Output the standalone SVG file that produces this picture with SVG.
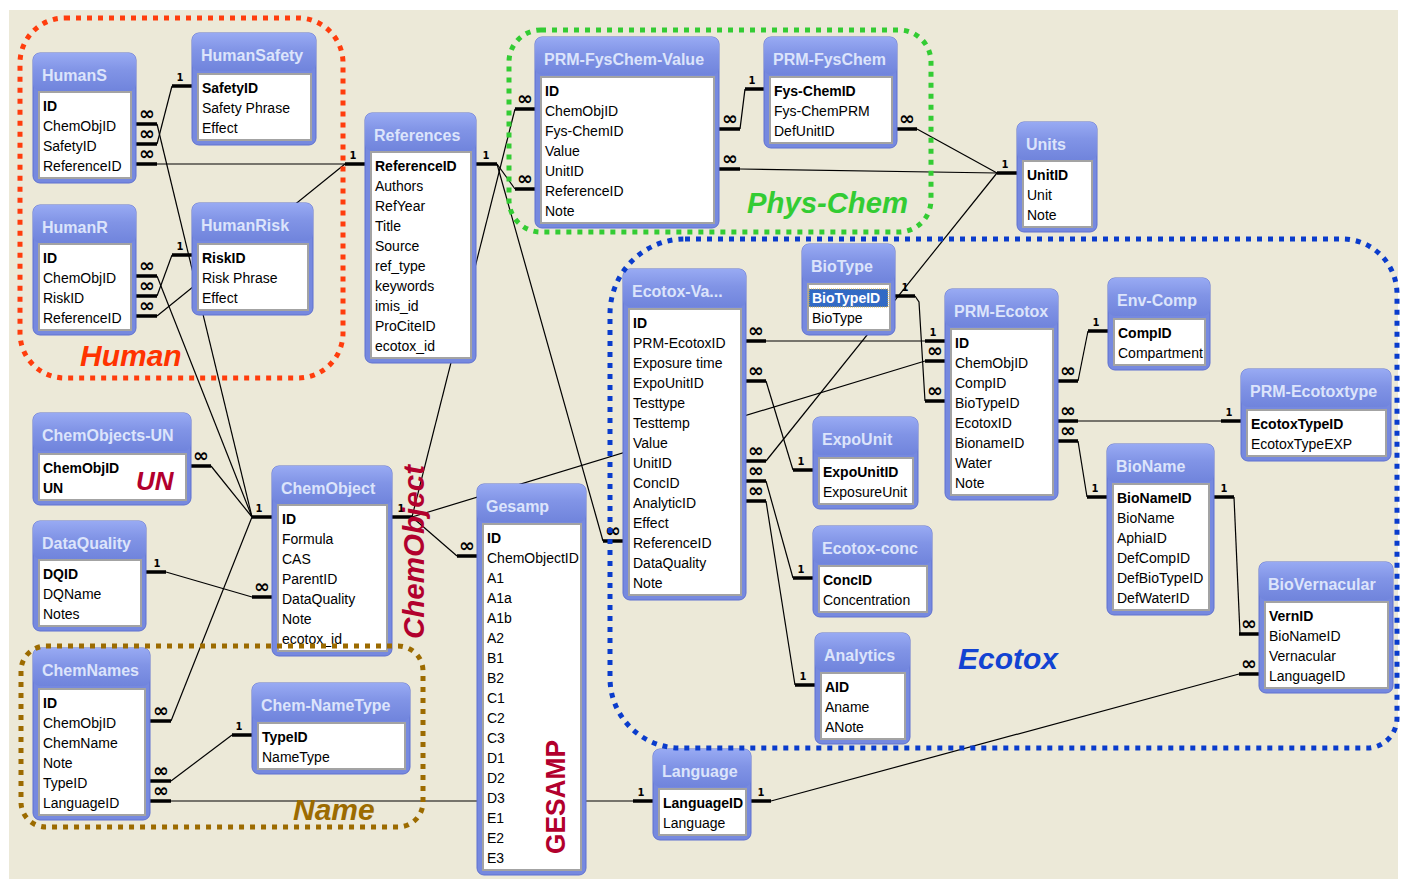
<svg xmlns="http://www.w3.org/2000/svg" width="1406" height="886" viewBox="0 0 1406 886">
<defs>
<linearGradient id="tg" x1="0" y1="0" x2="0" y2="1">
<stop offset="0" stop-color="#98AAF3"/><stop offset="0.45" stop-color="#8194E6"/><stop offset="1" stop-color="#7084DC"/>
</linearGradient>
<style>
.fr{fill:#7689DF;stroke:#5F71D0;stroke-width:1}
.tb{fill:url(#tg)}
.in{fill:#fff;stroke:#A3A3A3;stroke-width:2}
.tt{font-family:"Liberation Sans",Arial,sans-serif;font-weight:bold;font-size:16px;fill:#DCE4FB}
.f{font-family:"Liberation Sans",Arial,sans-serif;font-size:14px;fill:#000}
.k{font-weight:bold}
.ln{stroke:#000;stroke-width:1.2;fill:none}
.st{stroke:#000;stroke-width:3.5;fill:none}
.one{font-family:"DejaVu Sans",sans-serif;font-weight:bold;font-size:10px;fill:#000;text-anchor:middle}
.many{font-family:"DejaVu Sans",sans-serif;font-weight:bold;font-size:19px;fill:#000;text-anchor:middle}
.dot{fill:none;stroke-width:5;stroke-dasharray:5 6}
.gl{font-family:"Liberation Sans",Arial,sans-serif;font-weight:bold;font-style:italic;font-size:30px}
.red{font-family:"Liberation Sans",Arial,sans-serif;font-weight:bold;fill:#B2002D}
</style>
</defs>
<rect x="0" y="0" width="1406" height="886" fill="#fff"/>
<rect x="9" y="10" width="1389" height="869" fill="#ECE9D8"/>

<g id="connectors">
<path class="ln" d="M157 144 L172 86"/>
<path class="ln" d="M157 124 L252 517"/>
<path class="ln" d="M157 164 L345 164"/>
<path class="ln" d="M157 276 L252 517"/>
<path class="ln" d="M157 296 L172 255"/>
<path class="ln" d="M157 316 L345 164"/>
<path class="ln" d="M211 466 L252 517"/>
<path class="ln" d="M166 572 L252 597"/>
<path class="ln" d="M171 721 L252 517"/>
<path class="ln" d="M171 781 L232 735"/>
<path class="ln" d="M171 801 L633 801"/>
<path class="ln" d="M412 517 L515 109"/>
<path class="ln" d="M412 517 L457 556"/>
<path class="ln" d="M412 517 L925 361"/>
<path class="ln" d="M497 164 L515 189"/>
<path class="ln" d="M497 164 L603 541"/>
<path class="ln" d="M740 129 L745 89"/>
<path class="ln" d="M740 169 L997 173"/>
<path class="ln" d="M917 129 L997 173"/>
<path class="ln" d="M766 461 L997 173"/>
<path class="ln" d="M915 296 L919 302 L925 401"/>
<path class="ln" d="M766 341 L925 341"/>
<path class="ln" d="M766 381 L793 470"/>
<path class="ln" d="M766 481 L793 578"/>
<path class="ln" d="M766 501 L795 685"/>
<path class="ln" d="M1078 381 L1088 331"/>
<path class="ln" d="M1078 421 L1221 421"/>
<path class="ln" d="M1078 441 L1087 497"/>
<path class="ln" d="M1234 497 L1240 634"/>
<path class="ln" d="M771 801 L1239 674"/>
<path class="st" d="M136 124H157M136 144H157M136 164H157M172 86H192M345 164H365M136 276H157M136 296H157M136 316H157M172 255H192M191 466H211M146 572H166M252 517H272M252 597H272M392 517H412M150 721H171M150 781H171M150 801H171M232 735H252M633 801H653M751 801H771M476 164H497M515 109H535M515 189H535M719 129H740M719 169H740M745 89H764M897 129H917M997 173H1017M457 556H477M603 541H623M746 341H766M746 381H766M746 461H766M746 481H766M746 501H766M895 296H915M925 341H945M925 361H945M925 401H945M1058 381H1078M1058 421H1078M1058 441H1078M793 470H813M793 578H813M795 685H815M1088 331H1108M1221 421H1241M1087 497H1107M1214 497H1234M1239 634H1259M1239 674H1259"/>
<g class="many">
<text x="147" y="120">∞</text><text x="147" y="140">∞</text><text x="147" y="160">∞</text>
<text x="147" y="272">∞</text><text x="147" y="292">∞</text><text x="147" y="312">∞</text>
<text x="201" y="462">∞</text><text x="262" y="593">∞</text>
<text x="161" y="717">∞</text><text x="161" y="777">∞</text><text x="161" y="797">∞</text>
<text x="467" y="552">∞</text><text x="525" y="105">∞</text><text x="525" y="185">∞</text>
<text x="730" y="125">∞</text><text x="730" y="165">∞</text><text x="907" y="125">∞</text>
<text x="613" y="537">∞</text>
<text x="756" y="337">∞</text><text x="756" y="377">∞</text><text x="756" y="457">∞</text><text x="756" y="477">∞</text><text x="756" y="497">∞</text>
<text x="935" y="357">∞</text><text x="935" y="397">∞</text>
<text x="1068" y="377">∞</text><text x="1068" y="417">∞</text><text x="1068" y="437">∞</text>
<text x="1249" y="630">∞</text><text x="1249" y="670">∞</text>
</g>
<g class="one">
<text x="180" y="81">1</text><text x="353" y="159">1</text><text x="180" y="250">1</text>
<text x="259" y="512">1</text><text x="401" y="512">1</text><text x="157" y="567">1</text>
<text x="239" y="730">1</text><text x="641" y="796">1</text><text x="761" y="796">1</text>
<text x="486" y="159">1</text><text x="752" y="84">1</text><text x="1005" y="168">1</text>
<text x="905" y="291">1</text><text x="933" y="336">1</text><text x="801" y="465">1</text>
<text x="801" y="573">1</text><text x="803" y="680">1</text><text x="1096" y="326">1</text>
<text x="1229" y="416">1</text><text x="1095" y="492">1</text><text x="1224" y="492">1</text>
</g>
</g>

<g id="HumanS"><rect class="fr" x="33" y="53" width="103" height="130" rx="7"/><rect class="tb" x="33" y="53" width="103" height="38" rx="7"/><text class="tt" x="42" y="81">HumanS</text><rect class="in" x="39" y="92" width="92" height="86"/>
<text class="f k" x="43" y="111">ID</text><text class="f" x="43" y="131">ChemObjID</text><text class="f" x="43" y="151">SafetyID</text><text class="f" x="43" y="171">ReferenceID</text></g>

<g id="HumanSafety"><rect class="fr" x="192" y="33" width="124" height="112" rx="7"/><rect class="tb" x="192" y="33" width="124" height="38" rx="7"/><text class="tt" x="201" y="61">HumanSafety</text><rect class="in" x="198" y="74" width="113" height="66"/>
<text class="f k" x="202" y="93">SafetyID</text><text class="f" x="202" y="113">Safety Phrase</text><text class="f" x="202" y="133">Effect</text></g>

<g id="HumanR"><rect class="fr" x="33" y="205" width="103" height="130" rx="7"/><rect class="tb" x="33" y="205" width="103" height="38" rx="7"/><text class="tt" x="42" y="233">HumanR</text><rect class="in" x="39" y="244" width="92" height="86"/>
<text class="f k" x="43" y="263">ID</text><text class="f" x="43" y="283">ChemObjID</text><text class="f" x="43" y="303">RiskID</text><text class="f" x="43" y="323">ReferenceID</text></g>

<g id="HumanRisk"><rect class="fr" x="192" y="203" width="121" height="112" rx="7"/><rect class="tb" x="192" y="203" width="121" height="38" rx="7"/><text class="tt" x="201" y="231">HumanRisk</text><rect class="in" x="198" y="244" width="110" height="66"/>
<text class="f k" x="202" y="263">RiskID</text><text class="f" x="202" y="283">Risk Phrase</text><text class="f" x="202" y="303">Effect</text></g>

<g id="References"><rect class="fr" x="365" y="113" width="111" height="250" rx="7"/><rect class="tb" x="365" y="113" width="111" height="38" rx="7"/><text class="tt" x="374" y="141">References</text><rect class="in" x="371" y="152" width="100" height="206"/>
<text class="f k" x="375" y="171">ReferenceID</text><text class="f" x="375" y="191">Authors</text><text class="f" x="375" y="211">RefYear</text><text class="f" x="375" y="231">Title</text><text class="f" x="375" y="251">Source</text><text class="f" x="375" y="271">ref_type</text><text class="f" x="375" y="291">keywords</text><text class="f" x="375" y="311">imis_id</text><text class="f" x="375" y="331">ProCiteID</text><text class="f" x="375" y="351">ecotox_id</text></g>

<g id="PRM-FysChem-Value"><rect class="fr" x="535" y="37" width="184" height="191" rx="7"/><rect class="tb" x="535" y="37" width="184" height="38" rx="7"/><text class="tt" x="544" y="65">PRM-FysChem-Value</text><rect class="in" x="541" y="77" width="173" height="146"/>
<text class="f k" x="545" y="96">ID</text><text class="f" x="545" y="116">ChemObjID</text><text class="f" x="545" y="136">Fys-ChemID</text><text class="f" x="545" y="156">Value</text><text class="f" x="545" y="176">UnitID</text><text class="f" x="545" y="196">ReferenceID</text><text class="f" x="545" y="216">Note</text></g>

<g id="PRM-FysChem"><rect class="fr" x="764" y="37" width="133" height="111" rx="7"/><rect class="tb" x="764" y="37" width="133" height="38" rx="7"/><text class="tt" x="773" y="65">PRM-FysChem</text><rect class="in" x="770" y="77" width="122" height="66"/>
<text class="f k" x="774" y="96">Fys-ChemID</text><text class="f" x="774" y="116">Fys-ChemPRM</text><text class="f" x="774" y="136">DefUnitID</text></g>

<g id="Units"><rect class="fr" x="1017" y="122" width="80" height="110" rx="7"/><rect class="tb" x="1017" y="122" width="80" height="38" rx="7"/><text class="tt" x="1026" y="150">Units</text><rect class="in" x="1023" y="161" width="69" height="66"/>
<text class="f k" x="1027" y="180">UnitID</text><text class="f" x="1027" y="200">Unit</text><text class="f" x="1027" y="220">Note</text></g>

<g id="Ecotox-Values"><rect class="fr" x="623" y="269" width="123" height="331" rx="7"/><rect class="tb" x="623" y="269" width="123" height="38" rx="7"/><text class="tt" x="632" y="297">Ecotox-Va...</text><rect class="in" x="629" y="309" width="112" height="286"/>
<text class="f k" x="633" y="328">ID</text><text class="f" x="633" y="348">PRM-EcotoxID</text><text class="f" x="633" y="368">Exposure time</text><text class="f" x="633" y="388">ExpoUnitID</text><text class="f" x="633" y="408">Testtype</text><text class="f" x="633" y="428">Testtemp</text><text class="f" x="633" y="448">Value</text><text class="f" x="633" y="468">UnitID</text><text class="f" x="633" y="488">ConcID</text><text class="f" x="633" y="508">AnalyticID</text><text class="f" x="633" y="528">Effect</text><text class="f" x="633" y="548">ReferenceID</text><text class="f" x="633" y="568">DataQuality</text><text class="f" x="633" y="588">Note</text></g>

<g id="BioType"><rect class="fr" x="802" y="244" width="93" height="91" rx="7"/><rect class="tb" x="802" y="244" width="93" height="38" rx="7"/><text class="tt" x="811" y="272">BioType</text><rect class="in" x="808" y="284" width="82" height="46"/>
<rect x="809" y="289" width="79" height="18" fill="#316AC5" stroke="#D8B040" stroke-width="1" stroke-dasharray="1 1"/>
<text class="f k" x="812" y="303" style="fill:#fff">BioTypeID</text><text class="f" x="812" y="323">BioType</text></g>

<g id="PRM-Ecotox"><rect class="fr" x="945" y="289" width="113" height="211" rx="7"/><rect class="tb" x="945" y="289" width="113" height="38" rx="7"/><text class="tt" x="954" y="317">PRM-Ecotox</text><rect class="in" x="951" y="329" width="102" height="166"/>
<text class="f k" x="955" y="348">ID</text><text class="f" x="955" y="368">ChemObjID</text><text class="f" x="955" y="388">CompID</text><text class="f" x="955" y="408">BioTypeID</text><text class="f" x="955" y="428">EcotoxID</text><text class="f" x="955" y="448">BionameID</text><text class="f" x="955" y="468">Water</text><text class="f" x="955" y="488">Note</text></g>

<g id="ExpoUnit"><rect class="fr" x="813" y="417" width="105" height="92" rx="7"/><rect class="tb" x="813" y="417" width="105" height="38" rx="7"/><text class="tt" x="822" y="445">ExpoUnit</text><rect class="in" x="819" y="458" width="94" height="46"/>
<text class="f k" x="823" y="477">ExpoUnitID</text><text class="f" x="823" y="497">ExposureUnit</text></g>

<g id="Ecotox-conc"><rect class="fr" x="813" y="526" width="119" height="91" rx="7"/><rect class="tb" x="813" y="526" width="119" height="38" rx="7"/><text class="tt" x="822" y="554">Ecotox-conc</text><rect class="in" x="819" y="566" width="108" height="46"/>
<text class="f k" x="823" y="585">ConcID</text><text class="f" x="823" y="605">Concentration</text></g>

<g id="Analytics"><rect class="fr" x="815" y="633" width="95" height="111" rx="7"/><rect class="tb" x="815" y="633" width="95" height="38" rx="7"/><text class="tt" x="824" y="661">Analytics</text><rect class="in" x="821" y="673" width="84" height="66"/>
<text class="f k" x="825" y="692">AID</text><text class="f" x="825" y="712">Aname</text><text class="f" x="825" y="732">ANote</text></g>

<g id="Language"><rect class="fr" x="653" y="749" width="98" height="91" rx="7"/><rect class="tb" x="653" y="749" width="98" height="38" rx="7"/><text class="tt" x="662" y="777">Language</text><rect class="in" x="659" y="789" width="87" height="46"/>
<text class="f k" x="663" y="808">LanguageID</text><text class="f" x="663" y="828">Language</text></g>

<g id="Gesamp"><rect class="fr" x="477" y="484" width="109" height="391" rx="7"/><rect class="tb" x="477" y="484" width="109" height="38" rx="7"/><text class="tt" x="486" y="512">Gesamp</text><rect class="in" x="483" y="524" width="98" height="346"/>
<text class="f k" x="487" y="543">ID</text><text class="f" x="487" y="563">ChemObjectID</text><text class="f" x="487" y="583">A1</text><text class="f" x="487" y="603">A1a</text><text class="f" x="487" y="623">A1b</text><text class="f" x="487" y="643">A2</text><text class="f" x="487" y="663">B1</text><text class="f" x="487" y="683">B2</text><text class="f" x="487" y="703">C1</text><text class="f" x="487" y="723">C2</text><text class="f" x="487" y="743">C3</text><text class="f" x="487" y="763">D1</text><text class="f" x="487" y="783">D2</text><text class="f" x="487" y="803">D3</text><text class="f" x="487" y="823">E1</text><text class="f" x="487" y="843">E2</text><text class="f" x="487" y="863">E3</text>
<text class="red" font-size="28" textLength="114" lengthAdjust="spacingAndGlyphs" transform="translate(565,854) rotate(-90)">GESAMP</text></g>

<g id="Env-Comp"><rect class="fr" x="1108" y="278" width="102" height="92" rx="7"/><rect class="tb" x="1108" y="278" width="102" height="38" rx="7"/><text class="tt" x="1117" y="306">Env-Comp</text><rect class="in" x="1114" y="319" width="91" height="46"/>
<text class="f k" x="1118" y="338">CompID</text><text class="f" x="1118" y="358">Compartment</text></g>

<g id="PRM-Ecotoxtype"><rect class="fr" x="1241" y="369" width="150" height="92" rx="7"/><rect class="tb" x="1241" y="369" width="150" height="38" rx="7"/><text class="tt" x="1250" y="397">PRM-Ecotoxtype</text><rect class="in" x="1247" y="410" width="139" height="46"/>
<text class="f k" x="1251" y="429">EcotoxTypeID</text><text class="f" x="1251" y="449">EcotoxTypeEXP</text></g>

<g id="BioName"><rect class="fr" x="1107" y="444" width="107" height="171" rx="7"/><rect class="tb" x="1107" y="444" width="107" height="38" rx="7"/><text class="tt" x="1116" y="472">BioName</text><rect class="in" x="1113" y="484" width="96" height="126"/>
<text class="f k" x="1117" y="503">BioNameID</text><text class="f" x="1117" y="523">BioName</text><text class="f" x="1117" y="543">AphiaID</text><text class="f" x="1117" y="563">DefCompID</text><text class="f" x="1117" y="583">DefBioTypeID</text><text class="f" x="1117" y="603">DefWaterID</text></g>

<g id="BioVernacular"><rect class="fr" x="1259" y="562" width="134" height="131" rx="7"/><rect class="tb" x="1259" y="562" width="134" height="38" rx="7"/><text class="tt" x="1268" y="590">BioVernacular</text><rect class="in" x="1265" y="602" width="123" height="86"/>
<text class="f k" x="1269" y="621">VernID</text><text class="f" x="1269" y="641">BioNameID</text><text class="f" x="1269" y="661">Vernacular</text><text class="f" x="1269" y="681">LanguageID</text></g>

<g id="ChemObjects-UN"><rect class="fr" x="33" y="413" width="158" height="92" rx="7"/><rect class="tb" x="33" y="413" width="158" height="38" rx="7"/><text class="tt" x="42" y="441">ChemObjects-UN</text><rect class="in" x="39" y="454" width="147" height="46"/>
<text class="f k" x="43" y="473">ChemObjID</text><text class="f k" x="43" y="493">UN</text>
<text class="red" font-size="26" font-style="italic" x="136" y="490">UN</text></g>

<g id="DataQuality"><rect class="fr" x="33" y="521" width="113" height="110" rx="7"/><rect class="tb" x="33" y="521" width="113" height="38" rx="7"/><text class="tt" x="42" y="549">DataQuality</text><rect class="in" x="39" y="560" width="102" height="66"/>
<text class="f k" x="43" y="579">DQID</text><text class="f" x="43" y="599">DQName</text><text class="f" x="43" y="619">Notes</text></g>

<g id="ChemObject"><rect class="fr" x="272" y="466" width="120" height="190" rx="7"/><rect class="tb" x="272" y="466" width="120" height="38" rx="7"/><text class="tt" x="281" y="494">ChemObject</text><rect class="in" x="278" y="505" width="109" height="146"/>
<text class="f k" x="282" y="524">ID</text><text class="f" x="282" y="544">Formula</text><text class="f" x="282" y="564">CAS</text><text class="f" x="282" y="584">ParentID</text><text class="f" x="282" y="604">DataQuality</text><text class="f" x="282" y="624">Note</text><text class="f" x="282" y="644">ecotox_id</text></g>

<g id="ChemNames"><rect class="fr" x="33" y="648" width="117" height="172" rx="7"/><rect class="tb" x="33" y="648" width="117" height="38" rx="7"/><text class="tt" x="42" y="676">ChemNames</text><rect class="in" x="39" y="689" width="106" height="126"/>
<text class="f k" x="43" y="708">ID</text><text class="f" x="43" y="728">ChemObjID</text><text class="f" x="43" y="748">ChemName</text><text class="f" x="43" y="768">Note</text><text class="f" x="43" y="788">TypeID</text><text class="f" x="43" y="808">LanguageID</text></g>

<g id="Chem-NameType"><rect class="fr" x="252" y="683" width="158" height="91" rx="7"/><rect class="tb" x="252" y="683" width="158" height="38" rx="7"/><text class="tt" x="261" y="711">Chem-NameType</text><rect class="in" x="258" y="723" width="147" height="46"/>
<text class="f k" x="262" y="742">TypeID</text><text class="f" x="262" y="762">NameType</text></g>

<g id="groups">
<rect class="dot" stroke="#FF3D0D" x="20" y="18" width="323" height="360" rx="45"/>
<text class="gl" fill="#FF3300" x="80" y="366">Human</text>
<rect class="dot" stroke="#33CC33" x="509" y="30" width="422" height="202" rx="32"/>
<text class="gl" fill="#33CC33" x="747" y="213" textLength="161" lengthAdjust="spacingAndGlyphs">Phys-Chem</text>
<path class="dot" stroke="#0A3CCC" d="M685 239 H1342 A55 55 0 0 1 1397 294 V718 A30 30 0 0 1 1367 748 H680 A70 70 0 0 1 610 678 V314 A75 75 0 0 1 685 239 Z"/>
<text class="gl" fill="#1243D2" x="958" y="669">Ecotox</text>
<rect class="dot" stroke="#9C6B00" x="21" y="646" width="402" height="181" rx="25"/>
<text class="gl" fill="#9C6B00" x="293" y="820">Name</text>
<text class="red" font-size="29" font-style="italic" textLength="174" lengthAdjust="spacingAndGlyphs" transform="translate(424,639) rotate(-90)">ChemObject</text>
</g>
</svg>
